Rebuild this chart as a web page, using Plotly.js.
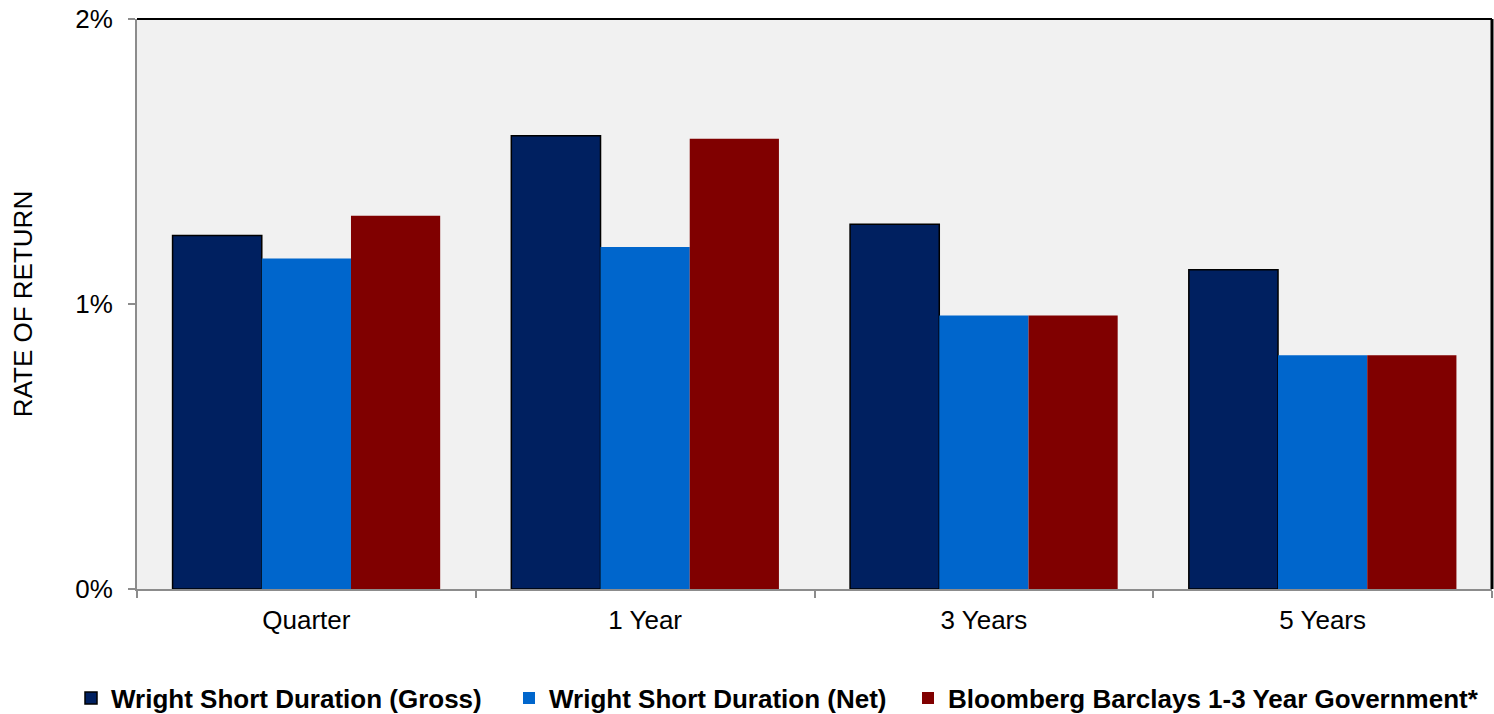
<!DOCTYPE html>
<html>
<head>
<meta charset="utf-8">
<script src="https://cdn.plot.ly/plotly-3.0.1.min.js"></script>
<style>html,body{margin:0;padding:0;background:#fff}#chart{width:1494px;height:714px}</style>
</head>
<body>
<div id="chart"></div>
<script>
const categories = ["Quarter", "1 Year", "3 Years", "5 Years"];
const grossValues = [1.24, 1.59, 1.28, 1.12];
const netValues = [1.16, 1.20, 0.96, 0.82];
const benchValues = [1.31, 1.58, 0.96, 0.82];
const seriesNames = ["Wright Short Duration (Gross)", "Wright Short Duration (Net)", "Bloomberg Barclays 1-3 Year Government*"];
const yTickVals = [0, 1, 2];
const yTickText = ["0%", "1%", "2%"];

const traces = [
  {type:"bar", name:seriesNames[0], x:categories, y:grossValues, legend:"legend",
   marker:{color:"#002060", line:{color:"#000000", width:1.5}}},
  {type:"bar", name:seriesNames[1], x:categories, y:netValues, legend:"legend2",
   marker:{color:"#0066CC", line:{color:"#0066CC", width:0}}},
  {type:"bar", name:seriesNames[2], x:categories, y:benchValues, legend:"legend3",
   marker:{color:"#800000", line:{color:"#800000", width:0}}}
];

const legendFont = {size:26, family:"Liberation Sans, Arial, sans-serif", weight:"bold", color:"#000000"};
function leg(px){
  return {orientation:"h", xref:"container", yref:"container", x:px/1494, xanchor:"left",
          y:(714-698)/714, yanchor:"middle", font:legendFont, itemwidth:30,
          bgcolor:"rgba(0,0,0,0)", borderwidth:0};
}

const layout = {
  width:1494, height:714,
  margin:{l:137, r:2, t:19, b:125},
  paper_bgcolor:"#ffffff",
  plot_bgcolor:"#F1F1F1",
  font:{family:"Liberation Sans, Arial, sans-serif", color:"#000000", size:26},
  barmode:"group",
  bargap:0.21,
  bargroupgap:0,
  showlegend:true,
  legend:leg(71),
  legend2:leg(509),
  legend3:leg(908),
  xaxis:{type:"category", showline:true, linecolor:"#8c8c8c", linewidth:2,
         ticks:"outside", tickson:"boundaries", ticklen:7, tickcolor:"#8c8c8c", tickwidth:2,
         tickfont:{size:26}, ticklabelstandoff:7, showgrid:false, zeroline:false, fixedrange:true, automargin:false},
  yaxis:{range:[0,2], tickvals:yTickVals, ticktext:yTickText, showline:true, linecolor:"#8c8c8c", linewidth:2,
         ticks:"outside", ticklen:7, tickcolor:"#8c8c8c", tickwidth:2, showgrid:false, zeroline:false,
         tickfont:{size:26}, ticklabelstandoff:10, automargin:false,
         title:{text:"RATE OF RETURN", font:{size:26}, standoff:35}},
  shapes:[
    {type:"line", xref:"paper", yref:"paper", x0:0, x1:1, y0:1, y1:1, line:{color:"#000000", width:2}},
    {type:"line", xref:"paper", yref:"paper", x0:1, x1:1, y0:0, y1:1, line:{color:"#000000", width:3}}
  ]
};

Plotly.newPlot("chart", traces, layout, {displayModeBar:false, staticPlot:true});
</script>
</body>
</html>
